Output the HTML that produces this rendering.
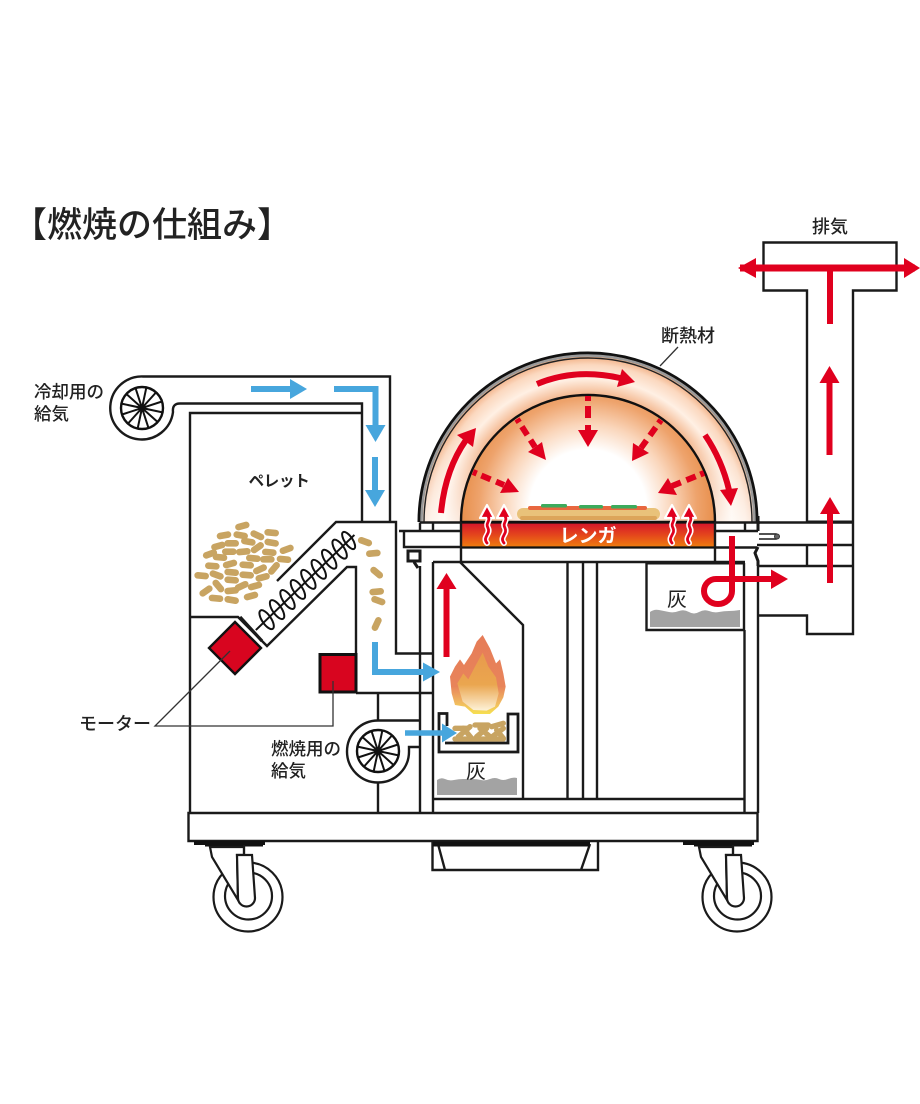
<!DOCTYPE html>
<html lang="ja"><head><meta charset="utf-8"><title>燃焼の仕組み</title>
<style>
html,body{margin:0;padding:0;background:#fff}
svg{display:block;width:920px;height:1104px}
text{font-family:"Liberation Sans","Noto Sans CJK JP",sans-serif;fill:#222}
</style></head><body>
<svg xmlns="http://www.w3.org/2000/svg" width="920" height="1104" viewBox="0 0 920 1104">
<defs>
<radialGradient id="inner" gradientUnits="userSpaceOnUse" cx="588" cy="508" r="127">
<stop offset="0" stop-color="#fff"/><stop offset=".46" stop-color="#fff"/><stop offset=".66" stop-color="#fad6bb"/><stop offset=".86" stop-color="#eea36c"/><stop offset="1" stop-color="#e88f4c"/>
</radialGradient>
<radialGradient id="ring" gradientUnits="userSpaceOnUse" cx="588" cy="522" r="169">
<stop offset=".74" stop-color="#f2b084"/><stop offset=".85" stop-color="#fff0e4"/><stop offset=".93" stop-color="#fbd8bf"/><stop offset="1" stop-color="#ee9f6c"/>
</radialGradient>
<linearGradient id="fade" gradientUnits="userSpaceOnUse" x1="0" y1="440" x2="0" y2="522">
<stop offset="0" stop-color="#fff" stop-opacity="0"/><stop offset="1" stop-color="#fff" stop-opacity=".7"/>
</linearGradient>
<linearGradient id="brick" x1="0" y1="0" x2="0" y2="1">
<stop offset="0" stop-color="#d5152b"/><stop offset=".5" stop-color="#e4461c"/><stop offset="1" stop-color="#ee7d10"/>
</linearGradient>
<linearGradient id="fl1" x1="0" y1="0" x2="0" y2="1">
<stop offset="0" stop-color="#e67c58"/><stop offset=".65" stop-color="#e8845a"/><stop offset=".85" stop-color="#f0b860"/><stop offset="1" stop-color="#f6e050"/>
</linearGradient>
<linearGradient id="fl2" x1="0" y1="0" x2="0" y2="1">
<stop offset="0" stop-color="#e89a4c"/><stop offset=".55" stop-color="#eaa64f"/><stop offset="1" stop-color="#fdf2d8"/>
</linearGradient>
<g id="p"><line x1="-12" y1="0" x2="12" y2="0" stroke="#c8a462" stroke-width="20" stroke-linecap="round"/></g>
<g id="wheel" fill="none" stroke="#111">
<circle r="21" stroke-width="2.400"/>
<g transform="rotate(12)" stroke-width="2">
<line x1="21" y1="0" x2="-21" y2="0"/><line x1="18.2" y1="10.5" x2="-18.2" y2="-10.5"/><line x1="10.5" y1="18.2" x2="-10.5" y2="-18.2"/><line x1="0" y1="21" x2="0" y2="-21"/><line x1="-10.5" y1="18.2" x2="10.5" y2="-18.2"/><line x1="-18.2" y1="10.5" x2="18.2" y2="-10.5"/>
</g>
<circle r="4" fill="#111" stroke="none"/>
</g>
<g id="caster" fill="none" stroke="#1a1a1a" stroke-width="2.200">
<rect x="-54" y="-56" width="71" height="4" fill="#111" stroke="none"/>
<rect x="-43" y="-56" width="58" height="5.500" fill="#111" stroke="none"/>
<circle cx="0" cy="0" r="34.500" fill="#fff"/>
<circle cx="0.500" cy="-1" r="23.500"/>
<path d="M-38,-50 L-36,-40 L-10,3 L-11,-42 H-4 V-50Z" fill="#fff"/>
<path d="M-11,-42 H4 L7,1 A8.500 8.500 0 0 1 -10,1 Z" fill="#fff"/>
<path d="M-4,-52 V-42"/>
</g>
<g id="heat">
<path d="M0,38 c-5,-6 4,-9 1,-15 c-3,-5 3,-7 0,-12 V8" fill="none" stroke="#fff" stroke-width="6" stroke-linecap="round"/>
<path d="M0,0 l7,13 h-14z" fill="#e0001e" stroke="#fff" stroke-width="2.2" stroke-linejoin="round"/>
<path d="M0,38 c-5,-6 4,-9 1,-15 c-3,-5 3,-7 0,-12 V8" fill="none" stroke="#e0001e" stroke-width="2.8" stroke-linecap="round"/>
</g>
</defs>

<rect width="920" height="1104" fill="#fff"/>

<!-- title -->
<text x="12" y="237" font-size="35" font-weight="500">【燃焼の仕組み】</text>

<!-- dome -->
<path d="M418,522 A170 170 0 0 1 758,522 Z" fill="url(#ring)"/>
<path d="M418,522 A170 170 0 0 1 758,522 Z" fill="url(#fade)"/>
<path d="M461,522 A127 127 0 0 1 715,522 Z" fill="url(#inner)" stroke="#111" stroke-width="2.400"/>
<path d="M419,522 A169 169 0 0 1 757,522" fill="none" stroke="#111" stroke-width="3"/>
<path d="M421.500,522 A166.500 166.500 0 0 1 754.500,522" fill="none" stroke="#999" stroke-width="2.500"/>
<path d="M424,522 A164 164 0 0 1 752,522" fill="none" stroke="#222" stroke-width="1.400"/>

<!-- pizza -->
<rect x="517" y="508" width="143" height="12" rx="6" fill="#e9c27a"/>
<rect x="520" y="516" width="137" height="4" rx="2" fill="#dca55a"/>
<rect x="528" y="506" width="119" height="4" rx="2" fill="#e8673f"/>
<rect x="541" y="504" width="26" height="3.500" rx="1.500" fill="#3cab5c"/>
<rect x="579" y="505" width="24" height="3.500" rx="1.500" fill="#3cab5c"/>
<rect x="611" y="505" width="26" height="3.500" rx="1.500" fill="#3cab5c"/>

<!-- brick -->
<rect x="461" y="523" width="254" height="24" fill="url(#brick)"/>
<path d="M461,522.500 H715 M461,547.500 H715" stroke="#111" stroke-width="2.200"/>
<text x="588" y="542" font-size="19" font-weight="700" text-anchor="middle" style="fill:#fff">レンガ</text>

<use href="#heat" x="487" y="505"/><use href="#heat" x="504" y="505"/>
<use href="#heat" x="672" y="505"/><use href="#heat" x="689" y="505"/>

<g fill="none" stroke="#1a1a1a" stroke-width="2.400" stroke-linejoin="miter">
<!-- flanges left -->
<path d="M420,522.500 H461 M420,522.500 V531 M433,522.500 V531"/>
<path d="M399,531 H461 M404,531 V547 H461 M461,522 V562 M715,522 V562"/>
<path d="M408,551 H420 V561 H408Z M414,562 L418,568" stroke-width="3"/>
<!-- flanges right -->
<path d="M715,522.500 H760 M715,531 H758 M745,522.500 V531 M715,547.500 H757"/>
<path d="M758,516 V531 M758,547 L755,553 L758,561 V566" stroke-width="3"/>
<!-- pin -->
<path d="M759,534 H776 V539 H759" stroke-width="1.600"/>
<circle cx="777" cy="536.500" r="2.500" fill="#666" stroke="#333" stroke-width="1"/>

<!-- cooling fan duct -->
<path d="M390,522 V376.500 H143 A31.500 31.500 0 1 0 173,412 Q172,403.500 180,403.500 H362 V522"/>
<path d="M362,413 H190 V813"/>

<!-- auger housing -->
<path d="M277,581 L336,522 H396 V653.500 H433"/>
<path d="M190,617 H238 L261,640 L267,646 L347,567 H356 V654"/>
<path d="M240,617 L262,641" stroke-width="3.200"/>

<!-- cabinet -->
<path d="M356,693 H433 M378,693 V720 M378,782 V813"/>
<path d="M420,566 V813 M433,562 V813"/>
<path d="M433,562 H745"/>
<path d="M460,562 L523,625 V798"/>
<path d="M433,799 H744"/>
<path d="M567.500,562 V800 M583,562 V800 M597,562 V800"/>
<path d="M744.500,630 V813 M758,566 V813"/>

<!-- ash box right -->
<path d="M646.500,563 V630 H744 V563" stroke-width="2.400"/>
<path d="M646,563 H745" stroke-width="3"/>

<!-- chimney -->
<path d="M807,522 V290.500 H763.500 V242.500 H896.500 V290.500 H853 V634 H807 V615.500 H758"/>
<path d="M758,522.500 H853 M757,545 H853 M758,566 H853 M807,545 V566"/>
<path d="M807,522 H853" stroke-width="3"/>

<!-- base -->
<path d="M188.500,813 H757.500 V841 H188.500Z"/>
<path d="M432.500,842 V870 H598 V842 M438,844 L445,870 M590,844 L581,870"/>
<path d="M433,844 H590" stroke-width="5" stroke="#111"/>

<!-- combustion fan -->
<path d="M420,720.500 H378 A31 31 0 1 0 409,751 V747 H420"/>

<!-- grate -->
<path d="M447,726 V713.500 H439 V752 H518 V714 H508 V743 H445" stroke-width="2.800"/>
</g>

<use href="#wheel" x="142" y="408"/>
<use href="#wheel" x="378" y="751"/>

<use href="#caster" x="248" y="897"/>
<use href="#caster" x="737" y="897"/>

<!-- auger coil -->
<g transform="translate(258 628) rotate(-44)" fill="none" stroke="#111" stroke-width="2">
<path d="M-3,0 H134"/>
<ellipse cx="12" cy="0" rx="4.500" ry="11" transform="rotate(10 12 0)"/>
<ellipse cx="26.500" cy="0" rx="4.500" ry="11" transform="rotate(10 26.500 0)"/>
<ellipse cx="41" cy="0" rx="4.500" ry="11" transform="rotate(10 41 0)"/>
<ellipse cx="55.500" cy="0" rx="4.500" ry="11" transform="rotate(10 55.500 0)"/>
<ellipse cx="70" cy="0" rx="4.500" ry="11" transform="rotate(10 70 0)"/>
<ellipse cx="84.500" cy="0" rx="4.500" ry="11" transform="rotate(10 84.500 0)"/>
<ellipse cx="99" cy="0" rx="4.500" ry="11" transform="rotate(10 99 0)"/>
<ellipse cx="113.500" cy="0" rx="4.500" ry="11" transform="rotate(10 113.500 0)"/>
<ellipse cx="126" cy="0" rx="4" ry="10" transform="rotate(10 126 0)"/>
</g>

<!-- pellets -->
<g transform="translate(180 500) scale(.33333)">
<use href="#p" transform="translate(187 78) rotate(-15)"/><use href="#p" transform="translate(132 106) rotate(-10)"/><use href="#p" transform="translate(182 106) rotate(10)"/><use href="#p" transform="translate(232 106) rotate(25)"/><use href="#p" transform="translate(275 98) rotate(5)"/><use href="#p" transform="translate(115 138) rotate(-15)"/><use href="#p" transform="translate(155 130)"/><use href="#p" transform="translate(205 125) rotate(10)"/><use href="#p" transform="translate(275 128) rotate(10)"/><use href="#p" transform="translate(320 148) rotate(-20)"/><use href="#p" transform="translate(90 162) rotate(-20)"/><use href="#p" transform="translate(148 155)"/><use href="#p" transform="translate(190 155) rotate(-5)"/><use href="#p" transform="translate(232 143) rotate(-35)"/><use href="#p" transform="translate(268 157) rotate(5)"/><use href="#p" transform="translate(120 172) rotate(5)"/><use href="#p" transform="translate(220 175) rotate(5)"/><use href="#p" transform="translate(262 178)"/><use href="#p" transform="translate(312 178) rotate(5)"/><use href="#p" transform="translate(97 198) rotate(5)"/><use href="#p" transform="translate(150 192) rotate(-15)"/><use href="#p" transform="translate(200 195) rotate(5)"/><use href="#p" transform="translate(240 208) rotate(-25)"/><use href="#p" transform="translate(282 205) rotate(-50)"/><use href="#p" transform="translate(65 227) rotate(5)"/><use href="#p" transform="translate(110 225) rotate(20)"/><use href="#p" transform="translate(155 217) rotate(5)"/><use href="#p" transform="translate(200 225) rotate(5)"/><use href="#p" transform="translate(248 232) rotate(-15)"/><use href="#p" transform="translate(155 240) rotate(5)"/><use href="#p" transform="translate(115 258) rotate(50)"/><use href="#p" transform="translate(185 258) rotate(-25)"/><use href="#p" transform="translate(225 258) rotate(-15)"/><use href="#p" transform="translate(78 273) rotate(-35)"/><use href="#p" transform="translate(155 272) rotate(-5)"/><use href="#p" transform="translate(108 295) rotate(5)"/><use href="#p" transform="translate(155 300) rotate(10)"/><use href="#p" transform="translate(213 288) rotate(-15)"/>
<use href="#p" transform="translate(555 125) rotate(20)"/><use href="#p" transform="translate(580 160) rotate(-5)"/><use href="#p" transform="translate(590 218) rotate(40)"/><use href="#p" transform="translate(590 275) rotate(-5)"/><use href="#p" transform="translate(595 302) rotate(20)"/><use href="#p" transform="translate(590 372) rotate(-65)"/>
</g>

<!-- motors -->
<polygon points="235,622 261,648 235,674 209,648" fill="#d8051f" stroke="#111" stroke-width="2.400"/>
<rect x="320" y="654.500" width="36" height="37.500" fill="#d8051f" stroke="#111" stroke-width="3"/>
<path d="M230,651 L155,726 H333 V681" fill="none" stroke="#333" stroke-width="1.300"/>

<!-- flame -->
<g transform="translate(340 560) scale(.33333)">
<path d="M428,225 L450,265 L468,310 L480,298 L490,340 L497,380 L490,412 L475,440 L450,462 L400,462 L375,440 L345,435 L335,400 L330,350 L345,320 L360,298 L372,315 L395,280 L410,245Z" fill="url(#fl1)"/>
<path d="M428,278 L445,320 L468,352 L476,400 L465,440 L440,452 L400,450 L368,425 L352,370 L370,340 L385,358 L405,320Z" fill="url(#fl2)"/>
<g stroke="#c8a462" stroke-width="16" stroke-linecap="round">
<line x1="345" y1="505" x2="380" y2="505"/><line x1="355" y1="530" x2="390" y2="500"/><line x1="370" y1="505" x2="395" y2="535"/><line x1="405" y1="495" x2="445" y2="495"/><line x1="410" y1="530" x2="440" y2="505"/><line x1="420" y1="505" x2="450" y2="530"/><line x1="455" y1="500" x2="490" y2="490"/><line x1="450" y1="535" x2="490" y2="505"/><line x1="470" y1="510" x2="490" y2="535"/><line x1="345" y1="537" x2="490" y2="537"/>
</g>
</g>

<!-- ash -->
<path d="M437,795 V780 q4,-3 8,-1 t9,1 t9,-1 t9,0 t9,1 t9,-1 t9,0 t9,0 t9,-1 V795Z" fill="#a3a3a3"/>
<path d="M650,627 V612 q4,-3 9,-2 t10,2 t10,-1 t10,1 t10,0 t10,-1 t10,1 t10,-1 t11,-1 V627Z" fill="#a3a3a3"/>
<text x="476" y="778" font-size="20" text-anchor="middle">灰</text>
<text x="677" y="606" font-size="20" text-anchor="middle">灰</text>

<!-- blue arrows -->
<g fill="none" stroke="#47a6dd" stroke-width="6">
<path d="M251,389 H292"/>
<path d="M334,389 H375.500 V427"/>
<path d="M375,457 V492"/>
<path d="M375,642 V672 H425" />
<path d="M405,733 H444" stroke-width="5.500"/>
</g>
<g fill="#47a6dd">
<polygon points="307,389 290,379 290,399"/>
<polygon points="375.500,442 365.500,425 385.500,425"/>
<polygon points="375,507 365,490 385,490"/>
<polygon points="440,672 423,662.500 423,681.500"/>
<polygon points="457,733 442,723.500 442,742.500"/>
</g>

<!-- red arrows -->
<g fill="none" stroke="#e0001e" stroke-width="6">
<path d="M446.500,657 V587"/>
<path d="M740,268 H915" stroke-width="7"/>
<path d="M830,268 V324"/>
<path d="M829.500,455 V381"/>
<path d="M830,583 V512"/>
<path d="M732,536 V591 a14 13 0 0 1 -28 0 a12 12 0 0 1 12 -12 H773"/>
<path d="M537,384 Q575,368 620,378" stroke-width="6"/>
<path d="M441,513 Q445,470 466,440" stroke-width="6"/>
<path d="M705,435 Q722,460 729,490" stroke-width="6"/>
<g stroke-width="6">
<path d="M588,396 V432" stroke-dasharray="5 5 12 7 14"/>
<path d="M517,419 L535,447" stroke-dasharray="4 5 10 6 10"/>
<path d="M661,420 L641,448" stroke-dasharray="4 5 10 6 10"/>
<path d="M473,472 L504,485" stroke-dasharray="4 5 10 6 10"/>
<path d="M704,473 L672,486" stroke-dasharray="4 5 10 6 10"/>
</g>
</g>
<g fill="#e0001e">
<polygon points="446.500,573 436.500,589 456.500,589"/>
<polygon points="738,268 756,258 756,278"/>
<polygon points="920,268 904,258 904,278"/>
<polygon points="829.500,366 819.500,383 839.500,383"/>
<polygon points="830,497 820,514 840,514"/>
<polygon points="788,579 771,569.500 771,589"/>
<polygon points="635,382 622,369 617,387"/>
<polygon points="476,428 457,435 473,447"/>
<polygon points="731,506 720,490 738,488"/>
<polygon points="588,447 578,430 598,430"/>
<polygon points="546,460 528,452 542,442"/>
<polygon points="632,461 633,443 649,453"/>
<polygon points="519,492 508,478 500,493"/>
<polygon points="658,493 668,478 677,495"/>
</g>

<!-- insulation leader -->
<path d="M660,366 L678,347" stroke="#333" stroke-width="1.300"/>

<!-- labels -->
<text x="34" y="398" font-size="17.500" font-weight="500">冷却用の</text>
<text x="34" y="420" font-size="17.500" font-weight="500">給気</text>
<text x="279" y="486" font-size="15.500" font-weight="700" letter-spacing="-.3" text-anchor="middle">ペレット</text>
<text x="830" y="233" font-size="18" font-weight="500" text-anchor="middle">排気</text>
<text x="688" y="342" font-size="18" font-weight="500" text-anchor="middle">断熱材</text>
<text x="79" y="730" font-size="18" font-weight="500">モーター</text>
<text x="271" y="755" font-size="17.500" font-weight="500">燃焼用の</text>
<text x="271" y="777" font-size="17.500" font-weight="500">給気</text>
</svg>
</body></html>
